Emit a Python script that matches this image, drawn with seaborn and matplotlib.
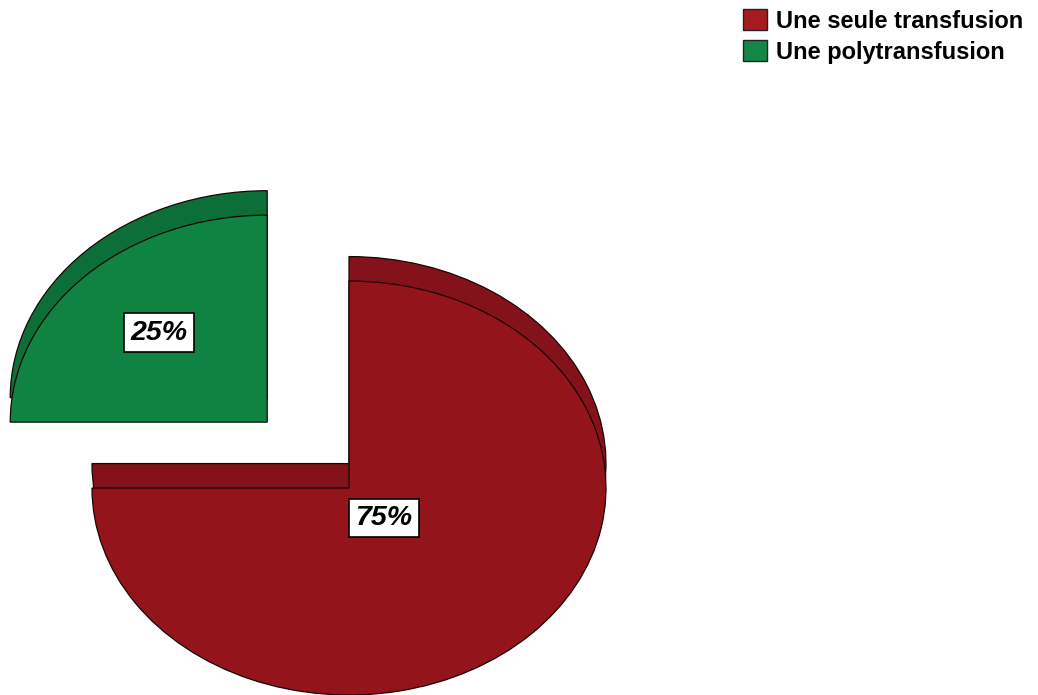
import matplotlib
matplotlib.use("Agg")
import matplotlib.pyplot as plt
import seaborn as sns
from matplotlib.patches import Patch

# ---- data ----
categories = ["Une seule transfusion", "Une polytransfusion"]
values = [75, 25]
pct_labels = ["75%", "25%"]

# ---- style ----
face_colors = ["#93141a", "#0f8342"]
side_colors = ["#84121a", "#0d6f38"]
legend_colors = ["#a51b1f", "#128748"]
explode = [0, 0.45]
depth = 0.118
label_pos = [(0.136, -0.145), (-0.739, 0.75)]

sns.set_theme(style="white")
plt.rcParams["font.family"] = ["Liberation Sans", "DejaVu Sans"]
plt.rcParams["text.color"] = "black"

fig = plt.figure(figsize=(10.38, 6.95), dpi=100)
ax = fig.add_axes([0, 0, 1, 1])

# side (depth) layer, shifted up
ax.pie(values, colors=side_colors, startangle=90, counterclock=False,
       explode=explode, center=(0, depth), radius=1,
       wedgeprops=dict(edgecolor="#1a0505", linewidth=0.9))
# top faces
wedges, _ = ax.pie(values, colors=face_colors, startangle=90, counterclock=False,
                   explode=explode, center=(0, 0), radius=1,
                   wedgeprops=dict(edgecolor="#1a0505", linewidth=0.9))

ax.set_aspect("auto")
ax.set_xlim(-349 / 257, (1038 - 349) / 257)
ax.set_ylim(-(695 - 488) / 207, 488 / 207)
ax.axis("off")

for txt, (x, y) in zip(pct_labels, label_pos):
    ax.text(x, y, txt, ha="center", va="center", fontsize=20.5,
            fontweight="bold", fontstyle="italic", family="Liberation Sans",
            color="black",
            bbox=dict(boxstyle="square,pad=0.22", fc="white", ec="black", lw=1.2))

handles = [Patch(facecolor=c, edgecolor="#222222", linewidth=1) for c in legend_colors]
leg = ax.legend(handles, categories, loc="upper left",
                bbox_to_anchor=(743 / 1038, 1 - 9 / 695), bbox_transform=fig.transFigure,
                frameon=False, prop=dict(family="Liberation Sans", weight="bold", size=17),
                handlelength=1.02, handleheight=1.02, handletextpad=0.38,
                labelspacing=0.3, borderpad=0, borderaxespad=0)
for t in leg.get_texts():
    t.set_color("black")

fig.savefig("out.png", dpi=100)
